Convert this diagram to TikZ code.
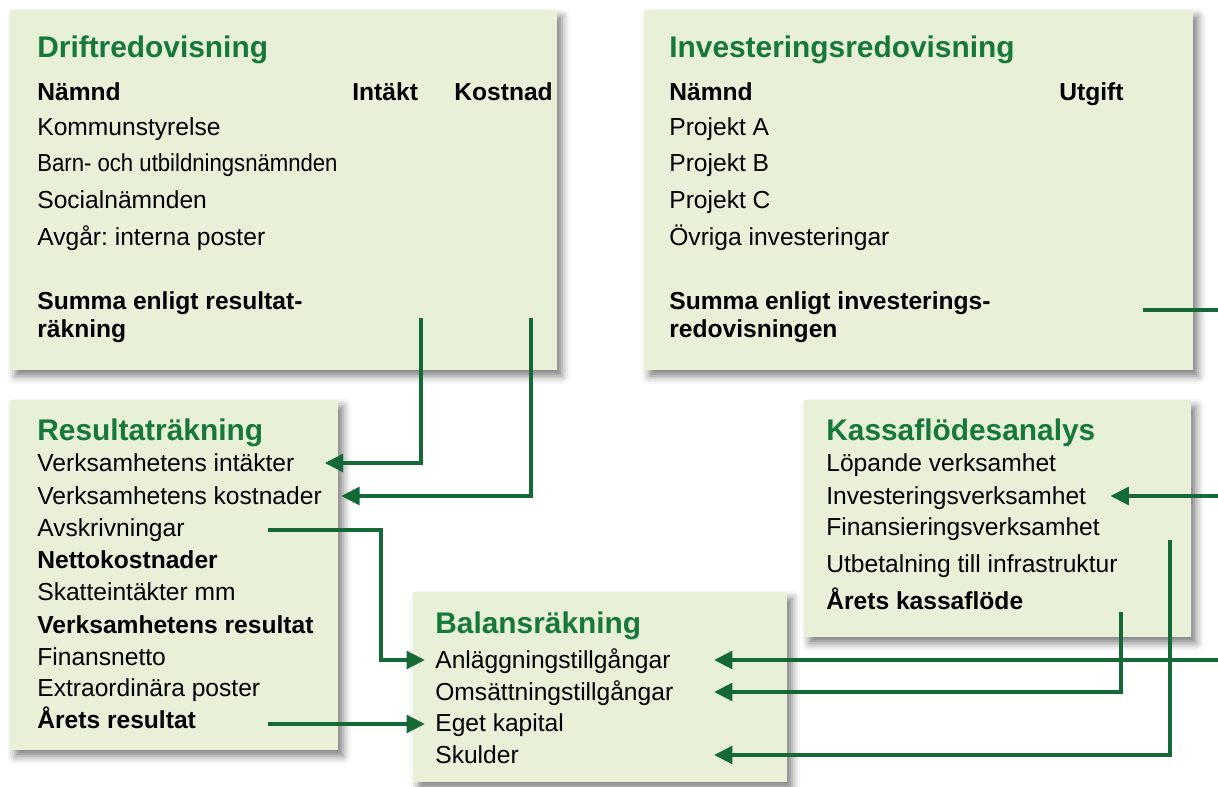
\documentclass[tikz,border=0pt]{standalone}
\usepackage{fontspec}
\setmainfont{Liberation Sans}
\usepackage{tikz}
\usetikzlibrary{arrows.meta,positioning,shadows.blur}
\definecolor{panelfill}{RGB}{232,240,216}
\definecolor{headgreen}{RGB}{22,120,58}
\definecolor{flowgreen}{RGB}{20,105,55}
\tikzset{
panel/.style = {fill=panelfill, rectangle, anchor=north west, inner sep=0pt,
  blur shadow={shadow xshift=0.1cm, shadow yshift=-0.12cm, shadow blur radius=0.15cm, shadow opacity=50}},
head/.style  = {anchor=west, inner sep=0pt, text=headgreen, font=\fontsize{17}{20}\selectfont\bfseries, text height=12pt, text depth=0pt},
item/.style  = {anchor=west, inner sep=0pt, font=\fontsize{14}{16}\selectfont, text height=10pt, text depth=0pt},
bitem/.style = {item, font=\fontsize{14}{16}\selectfont\bfseries},
total/.style = {anchor=north west, inner sep=0pt, align=left, font=\fontsize{14}{16}\selectfont\bfseries},
tmp/.style   = {coordinate},
flow/.style  = {draw=flowgreen, line width=2.3pt, -{Triangle[length=10.5pt,width=10pt]}}
}
\frenchspacing
\begin{document}
\begin{tikzpicture}[x=0.02cm, y=-0.02cm]
  \useasboundingbox (0,0) rectangle (1218,787);

  % panels
  \node [panel, minimum width=10.94cm, minimum height=7.2cm]  (drift)  at (10,10)   {};
  \node [panel, minimum width=10.98cm, minimum height=7.2cm]  (invest) at (644,10)  {};
  \node [panel, minimum width=6.56cm,  minimum height=7.0cm]  (result) at (10,400)  {};
  \node [panel, minimum width=7.74cm,  minimum height=4.74cm] (kassa)  at (804,400) {};
  \node [panel, minimum width=7.48cm,  minimum height=3.8cm]  (balans) at (413,592) {};

  % Driftredovisning
  \node [head]  (dhead) at (37,47)  {Driftredovisning};
  \node [bitem] (dnamnd) at (37,92) {Nämnd};
  \node [bitem] (dint)  at (352,92) {Intäkt};
  \node [bitem] (dkost) at (454,92) {Kostnad};
  \node [item, below=0.7cm of dnamnd.west, anchor=west] (dr1) {Kommunstyrelse};
  \node [item, below=0.72cm of dr1.west, anchor=west]   (dr2) {\scalebox{0.9}[1]{Barn- och utbildningsnämnden}};
  \node [item, below=0.74cm of dr2.west, anchor=west]   (dr3) {Socialnämnden};
  \node [item, below=0.74cm of dr3.west, anchor=west]   (dr4) {Avgår: interna poster};
  \node [total] (dsum) at (37,291) {Summa enligt resultat-\\räkning};

  % Investeringsredovisning
  \node [head]  (ihead) at (669,47)  {Investeringsredovisning};
  \node [bitem] (inamnd) at (669,92) {Nämnd};
  \node [bitem] (iutg)  at (1059,92) {Utgift};
  \node [item, below=0.7cm of inamnd.west, anchor=west] (ir1) {Projekt A};
  \node [item, below=0.72cm of ir1.west, anchor=west]   (ir2) {Projekt B};
  \node [item, below=0.74cm of ir2.west, anchor=west]   (ir3) {Projekt C};
  \node [item, below=0.74cm of ir3.west, anchor=west]   (ir4) {Övriga investeringar};
  \node [total] (isumtext) at (669,291) {Summa enligt investerings-\\redovisningen};

  % Resultaträkning
  \node [head] (rhead) at (37,430) {Resultaträkning};
  \node [item] (ri1) at (37,463) {Verksamhetens intäkter};
  \node [item, below=0.66cm of ri1.west, anchor=west]  (ri2) {Verksamhetens kostnader};
  \node [item, below=0.64cm of ri2.west, anchor=west]  (ri3) {Avskrivningar};
  \node [bitem, below=0.64cm of ri3.west, anchor=west] (ri4) {Nettokostnader};
  \node [item, below=0.64cm of ri4.west, anchor=west]  (ri5) {Skatteintäkter mm};
  \node [bitem, below=0.66cm of ri5.west, anchor=west] (ri6) {Verksamhetens resultat};
  \node [item, below=0.64cm of ri6.west, anchor=west]  (ri7) {Finansnetto};
  \node [item, below=0.62cm of ri7.west, anchor=west]  (ri8) {Extraordinära poster};
  \node [bitem, below=0.64cm of ri8.west, anchor=west] (ri9) {Årets resultat};

  % Kassaflödesanalys
  \node [head] (khead) at (826,430) {Kassaflödesanalys};
  \node [item] (ka1) at (826,463) {Löpande verksamhet};
  \node [item, below=0.66cm of ka1.west, anchor=west]  (ka2) {Investeringsverksamhet};
  \node [item, below=0.62cm of ka2.west, anchor=west]  (ka3) {Finansieringsverksamhet};
  \node [item, below=0.74cm of ka3.west, anchor=west]  (ka4) {Utbetalning till infrastruktur};
  \node [bitem, below=0.74cm of ka4.west, anchor=west] (ka5) {Årets kassaflöde};

  % Balansräkning
  \node [head] (bhead) at (435,623) {Balansräkning};
  \node [item] (ba1) at (435,660) {Anläggningstillgångar};
  \node [item, below=0.64cm of ba1.west, anchor=west] (ba2) {Omsättningstillgångar};
  \node [item, below=0.62cm of ba2.west, anchor=west] (ba3) {Eget kapital};
  \node [item, below=0.64cm of ba3.west, anchor=west] (ba4) {Skulder};

  % connector ends
  \node [tmp] (dintakt)  at (421,318)  {};
  \node [tmp] (dkostnad) at (531,318)  {};
  \node [tmp] (avsk)     at (268,530)  {};
  \node [tmp] (avknee)   at (381,530)  {};
  \node [tmp] (arsres)   at (268,724)  {};
  \node [tmp] (tipleft)  at (425,0)    {};
  \node [tmp] (isum)     at (1143,310) {};
  \node [tmp] (rail)     at (1232,310) {};
  \node [tmp] (tipcol)   at (714,0)    {};
  \node [tmp] (kars)     at (1121,612) {};
  \node [tmp] (kfin)     at (1170,540) {};

  \draw [flow] (dintakt) |- ([xshift=0.6cm]ri1.east);
  \draw [flow] (dkostnad) |- ([xshift=0.38cm]ri2.east);
  \draw [flow] (avsk) -- (avknee) |- (ba1.west -| tipleft);
  \draw [flow] (arsres) -- (arsres -| tipleft);
  \draw [flow] (isum) -- (rail) |- (ba1.east -| tipcol);
  \draw [flow] (rail) |- ([xshift=0.48cm]ka2.east);
  \draw [flow] (kars) |- (ba2.east -| tipcol);
  \draw [flow] (kfin) |- (ba4.east -| tipcol);
\end{tikzpicture}
\end{document}
